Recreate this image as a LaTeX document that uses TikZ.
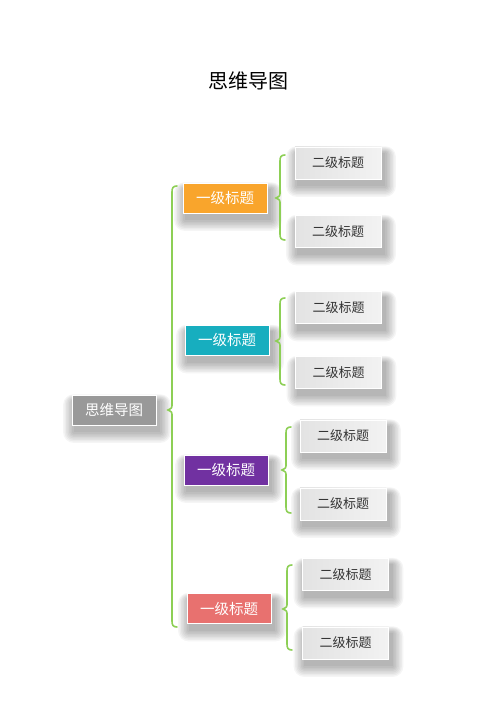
\documentclass[tikz,border=0pt]{standalone}
\usepackage{fontspec}
\setmainfont{Noto Sans CJK SC}
\usetikzlibrary{backgrounds}
\definecolor{cOrange}{HTML}{F9A52C}
\definecolor{cTeal}{HTML}{17AEBF}
\definecolor{cPurple}{HTML}{7131A1}
\definecolor{cPink}{HTML}{E8716F}
\definecolor{cRoot}{HTML}{999999}
\definecolor{cGreen}{HTML}{8DCF55}
\definecolor{cText}{HTML}{333333}
\tikzset{
  boxbase/.style={draw=white, line width=0.8pt, inner sep=0pt},
  rootbox/.style={boxbase, fill=cRoot, minimum width=84pt, minimum height=30pt,
    text=white, font=\fontsize{14.5pt}{16pt}\selectfont},
  lvone/.style={boxbase, fill=#1, minimum width=84pt, minimum height=30pt,
    text=white, font=\fontsize{14.5pt}{16pt}\selectfont},
  lvtwo/.style={boxbase, left color=black!11, right color=black!5, minimum width=86pt, minimum height=32pt,
    text=cText, font=\fontsize{13pt}{15pt}\selectfont},
  bracepath/.style={draw=cGreen, line width=1.6pt, line cap=round},
  shadowlayer/.style={fill=black, fill opacity=0.04, draw=none}
}
% soft shadow behind a named node
\newcommand{\softshadow}[1]{%
  \begin{pgfonlayer}{background}
  \foreach \r in {0,1.5,...,10.5} {
    \fill[shadowlayer, rounded corners=\r pt]
      ([xshift=2pt-\r pt, yshift=-7pt-\r pt]#1.south west) rectangle
      ([xshift=4pt+\r pt, yshift=-6pt+0.6*\r pt]#1.north east);
  }
  \end{pgfonlayer}}
% brace: #1 x, #2 top y, #3 bottom y, #4 tip y
\newcommand{\mybrace}[4]{%
  \draw[bracepath] (#1+5,#2) .. controls (#1+1,#2) and (#1,#2-2) .. (#1,#2-6)
    -- (#1,#4+6) .. controls (#1,#4+2) .. (#1-4,#4)
    .. controls (#1,#4-2) .. (#1,#4-6)
    -- (#1,#3+6) .. controls (#1,#3+2) and (#1+1,#3) .. (#1+5,#3);}
\begin{document}
\begin{tikzpicture}[x=1pt,y=1pt]
\begin{pgfonlayer}{background}
\fill[white] (0,0) rectangle (500,707);
\end{pgfonlayer}
\useasboundingbox (0,0) rectangle (500,707);
\node[font=\fontsize{20pt}{24pt}\selectfont, text=black] (title) at (248,626) {思维导图};

\node[rootbox] (root) at (114,297) {思维导图};

\node[lvone=cOrange] (a) at (225,509) {一级标题};
\node[lvone=cTeal] (b) at (227,366.5) {一级标题};
\node[lvone=cPurple] (c) at (226,237) {一级标题};
\node[lvone=cPink] (d) at (229,98.5) {一级标题};

\node[lvtwo] (a1) at (338,544) {二级标题};
\node[lvtwo] (a2) at (338,475.5) {二级标题};
\node[lvtwo] (b1) at (338.5,399.5) {二级标题};
\node[lvtwo] (b2) at (338.5,334.5) {二级标题};
\node[lvtwo] (c1) at (343,271) {二级标题};
\node[lvtwo] (c2) at (343,203) {二级标题};
\node[lvtwo] (d1) at (345.5,132.5) {二级标题};
\node[lvtwo] (d2) at (345.5,64) {二级标题};

\foreach \n in {root,a,b,c,d,a1,a2,b1,b2,c1,c2,d1,d2} {\softshadow{\n}}

\mybrace{172}{521}{80}{297}
\mybrace{280}{552}{467}{509}
\mybrace{280}{409}{322}{366}
\mybrace{286}{280}{194}{237}
\mybrace{287}{142}{57}{98}
\end{tikzpicture}
\end{document}
